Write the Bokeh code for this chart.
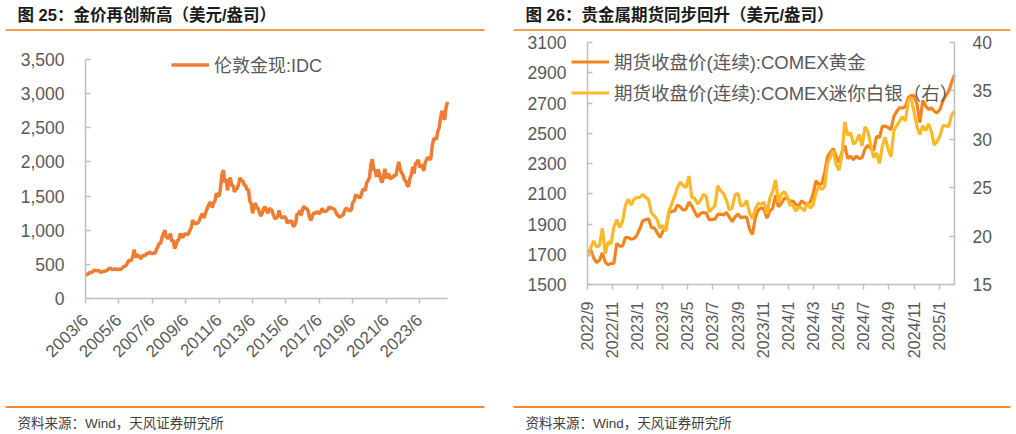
import math
import pandas as pd
from bokeh.plotting import figure
from bokeh.models import (Range1d, LinearAxis, FixedTicker, Legend, LegendItem,
                          Label, BoxAnnotation, NumeralTickFormatter)
from bokeh.layouts import row
from bokeh.embed import file_html
from bokeh.resources import INLINE

# ---------------- data: figure 25 (monthly, from 2003/6) ----------------
gold_2003 = [356, 351, 360, 380, 379, 390, 410]
gold_2004 = [414, 405, 410, 400, 384, 392, 398, 400, 406, 420, 440, 442]
gold_2005 = [424, 423, 434, 429, 422, 431, 424, 438, 460, 470, 480, 515]
gold_2006 = [555, 555, 560, 620, 715, 600, 640, 630, 598, 585, 630, 630]
gold_2007 = [630, 665, 655, 680, 667, 655, 665, 665, 720, 760, 810, 810]
gold_2008 = [900, 950, 1000, 900, 885, 890, 950, 830, 860, 730, 780, 850]
gold_2009 = [860, 950, 920, 890, 950, 940, 935, 950, 1000, 1045, 1150, 1110]
gold_2010 = [1090, 1105, 1110, 1160, 1210, 1240, 1180, 1240, 1300, 1350, 1390, 1410]
gold_2011 = [1330, 1400, 1430, 1540, 1510, 1500, 1620, 1820, 1880, 1700, 1750, 1580]
gold_2012 = [1720, 1770, 1660, 1650, 1560, 1600, 1610, 1680, 1770, 1720, 1730, 1660]
gold_2013 = [1660, 1590, 1600, 1430, 1390, 1250, 1320, 1400, 1330, 1320, 1250, 1210]
gold_2014 = [1250, 1320, 1340, 1290, 1250, 1320, 1300, 1290, 1220, 1170, 1180, 1200]
gold_2015 = [1290, 1210, 1180, 1190, 1200, 1170, 1100, 1135, 1120, 1145, 1065, 1060]
gold_2016 = [1115, 1240, 1235, 1290, 1215, 1320, 1350, 1310, 1320, 1275, 1180, 1145]
gold_2017 = [1210, 1255, 1245, 1265, 1265, 1240, 1270, 1320, 1280, 1275, 1280, 1300]
gold_2018 = [1345, 1320, 1325, 1315, 1300, 1250, 1225, 1200, 1190, 1215, 1220, 1280]
gold_2019 = [1320, 1315, 1295, 1280, 1305, 1410, 1425, 1525, 1490, 1510, 1465, 1515]
gold_2020 = [1590, 1600, 1580, 1700, 1730, 1770, 1970, 2040, 1890, 1880, 1780, 1890]
gold_2021 = [1850, 1740, 1700, 1770, 1900, 1760, 1815, 1815, 1745, 1780, 1775, 1810]
gold_2022 = [1800, 1910, 2000, 1900, 1840, 1810, 1740, 1720, 1660, 1640, 1760, 1810]
gold_2023 = [1930, 1830, 1980, 1990, 2030, 1920, 1960, 1920, 1870, 1990, 2040, 2070]
gold_2024 = [2040, 2045, 2230, 2330, 2350, 2330, 2445, 2500, 2640, 2750, 2650, 2620]
gold_2025 = [2800, 2880]
london_gold = (gold_2003 + gold_2004 + gold_2005 + gold_2006 + gold_2007 + gold_2008 +
               gold_2009 + gold_2010 + gold_2011 + gold_2012 + gold_2013 + gold_2014 +
               gold_2015 + gold_2016 + gold_2017 + gold_2018 + gold_2019 + gold_2020 +
               gold_2021 + gold_2022 + gold_2023 + gold_2024 + gold_2025)
left_tick_labels = ["2003/6", "2005/6", "2007/6", "2009/6", "2011/6", "2013/6",
                    "2015/6", "2017/6", "2019/6", "2021/6", "2023/6"]

# ---------------- data: figure 26 (weekly, from 2022-09-02) ----------------
comex_gold_2022 = [1720, 1728, 1675, 1645, 1660, 1709, 1648, 1630, 1640, 1640, 1771, 1754,
                   1755, 1810, 1810, 1800, 1804, 1826]
comex_gold_2023 = [1869, 1921, 1928, 1935, 1876, 1874, 1842, 1811, 1855, 1868, 1973, 1983,
                   1986, 2025, 2015, 1990, 1999, 2045, 2019, 1981, 1946, 1969, 1977, 1971,
                   1929, 1929, 1932, 1964, 1965, 1959, 1976, 1946, 1916, 1947, 1966, 1942,
                   1946, 1945, 1866, 1830, 1941, 1994, 2006, 1999, 1938, 1985, 2003, 2089,
                   2014, 2035, 2069, 2071]
comex_gold_2024 = [2050, 2051, 2029, 2018, 2054, 2038, 2024, 2046, 2096, 2186, 2161, 2165,
                   2238, 2345, 2374, 2398, 2347, 2308, 2375, 2418, 2334, 2348, 2325, 2349,
                   2332, 2339, 2397, 2421, 2399, 2386, 2480, 2471, 2546, 2547, 2538, 2524,
                   2611, 2646, 2668, 2667, 2676, 2736, 2749, 2750, 2694, 2570, 2716, 2681,
                   2657, 2668, 2645, 2635]
comex_gold_2025 = [2659, 2716, 2748, 2778, 2835, 2886]
comex_gold = comex_gold_2022 + comex_gold_2023 + comex_gold_2024 + comex_gold_2025

comex_silver_2022 = [17.9, 18.8, 19.5, 18.9, 19.0, 20.8, 18.2, 19.4, 19.2, 20.9, 21.7, 20.9,
                     21.5, 23.2, 23.8, 23.2, 23.8, 24.0]
comex_silver_2023 = [24.0, 24.3, 24.0, 23.8, 22.4, 22.1, 21.7, 20.8, 21.1, 20.5, 22.5, 23.3,
                     24.1, 25.0, 25.6, 25.2, 25.0, 26.2, 24.0, 23.9, 23.3, 23.7, 24.3, 24.1,
                     22.5, 22.8, 23.1, 25.2, 24.7, 24.4, 23.7, 22.7, 22.9, 24.3, 24.4, 23.1,
                     23.2, 23.7, 22.4, 21.8, 22.8, 23.4, 23.3, 23.5, 22.3, 23.9, 24.6, 25.8,
                     23.5, 24.3, 24.6, 24.1]
comex_silver_2024 = [23.2, 23.2, 22.6, 23.0, 22.9, 22.6, 23.5, 22.9, 23.2, 24.5, 25.2, 24.8,
                     25.1, 27.5, 28.2, 28.8, 27.4, 26.8, 28.4, 31.8, 30.4, 30.7, 29.5, 29.8,
                     30.5, 29.3, 31.3, 30.8, 29.4, 28.1, 28.6, 27.5, 29.3, 30.2, 29.0, 28.2,
                     30.9, 31.4, 31.9, 32.3, 31.9, 34.0, 34.3, 32.8, 31.3, 30.5, 31.4, 30.9,
                     31.6, 30.8, 29.4, 29.8]
comex_silver_2025 = [30.4, 31.4, 31.4, 31.3, 32.5, 32.9]
comex_silver = comex_silver_2022 + comex_silver_2023 + comex_silver_2024 + comex_silver_2025

right_tick_dates = ["2022-09-01", "2022-11-01", "2023-01-01", "2023-03-01", "2023-05-01",
                    "2023-07-01", "2023-09-01", "2023-11-01", "2024-01-01", "2024-03-01",
                    "2024-05-01", "2024-07-01", "2024-09-01", "2024-11-01", "2025-01-01"]
right_tick_labels = ["2022/9", "2022/11", "2023/1", "2023/3", "2023/5", "2023/7", "2023/9",
                     "2023/11", "2024/1", "2024/3", "2024/5", "2024/7", "2024/9", "2024/11",
                     "2025/1"]

title_left = "图 25：金价再创新高（美元/盎司）"
title_right = "图 26：贵金属期货同步回升（美元/盎司）"
source_text = "资料来源：Wind，天风证券研究所"

# ---------------- styles ----------------
FONT = "Liberation Sans, Noto Sans CJK SC"
AXIS_C = "#BFBFBF"
LABEL_C = "#595959"
TITLE_LINE_C = "#F5A04E"
FOOT_LINE_C = "#F28B2C"
C_LGOLD = "#EE7D31"
C_GOLD = "#F5841F"
C_SILVER = "#FBB829"
PW, PH = 508, 434


def span_range(v0, v1, p0, p1, size):
    """Range whose values v0/v1 fall at panel pixels p0/p1 (p grows with value)."""
    k = (p1 - p0) / (v1 - v0)
    return Range1d(v0 - p0 / k, v0 + (size - p0) / k)


def style_axis(ax, size, tick_in, tick_out, standoff):
    ax.axis_line_color = AXIS_C
    ax.axis_line_width = 1.5
    ax.major_tick_line_color = AXIS_C
    ax.major_tick_line_width = 1.5
    ax.major_tick_in = tick_in
    ax.major_tick_out = tick_out
    ax.minor_tick_line_color = None
    ax.major_label_text_font = FONT
    ax.major_label_text_font_size = size
    ax.major_label_text_color = LABEL_C
    ax.major_label_standoff = standoff


def base_fig(xr, yr):
    p = figure(width=PW, height=PH, x_range=xr, y_range=yr, title=None,
               x_axis_type=None, y_axis_type=None, output_backend="svg",
               toolbar_location=None, min_border=0)
    p.outline_line_color = None
    p.background_fill_color = "white"
    p.border_fill_color = "white"
    return p


def decorate(p, title, line_right):
    """Title, orange rules and source note (panel pixel positions, y from top)."""
    def box(x0, x1, y0, y1, c):
        p.add_layout(BoxAnnotation(left=x0, right=x1, top=PH - y0, bottom=PH - y1,
                                   left_units="screen", right_units="screen",
                                   top_units="screen", bottom_units="screen",
                                   fill_color=c, fill_alpha=1, line_color=None))

    def text(x, y, s, size, bold, c):
        p.add_layout(Label(x=x, y=PH - y, x_units="screen", y_units="screen", text=s,
                           text_font=FONT, text_font_size=size,
                           text_font_style="bold" if bold else "normal", text_color=c,
                           text_baseline="middle", text_align="left"))
    box(5, line_right, 28.5, 30.5, TITLE_LINE_C)
    box(5, line_right, 405.5, 407.5, FOOT_LINE_C)
    text(17, 14.5, title, "16.5px", True, "#1A1A1A")
    text(17, 423, source_text, "13.5px", False, "#404040")


# ---------------- figure 25 ----------------
n1 = len(london_gold)
x1 = list(range(n1))
p1 = base_fig(span_range(0, n1 - 1, 85, 447, PW), span_range(0, 3500, PH - 298, PH - 59, PH))
r1 = p1.line(x1, london_gold, color=C_LGOLD, line_width=3.5)
left_ticks = [i * 24 for i in range(len(left_tick_labels))]
xa1 = LinearAxis(fixed_location=0, bounds=(0, n1 - 1), ticker=FixedTicker(ticks=left_ticks),
                 major_label_overrides={t: l for t, l in zip(left_ticks, left_tick_labels)},
                 major_label_orientation=math.pi / 4)
ya1 = LinearAxis(fixed_location=0, bounds=(0, 3500),
                 ticker=FixedTicker(ticks=list(range(0, 3501, 500))),
                 formatter=NumeralTickFormatter(format="0,0"))
style_axis(xa1, "17px", 0, 5, 14)
style_axis(ya1, "17.5px", 5, 0, 21)
p1.add_layout(xa1, "below")
p1.add_layout(ya1, "left")
leg1 = Legend(items=[LegendItem(label="伦敦金现:IDC", renderers=[r1])], location=(171, 357),
              glyph_width=38, glyph_height=21, label_height=21, label_standoff=5,
              padding=0, margin=0, spacing=5, border_line_alpha=0, background_fill_alpha=0,
              label_text_font=FONT, label_text_font_size="18px", label_text_color=LABEL_C)
p1.add_layout(leg1)
decorate(p1, title_left, 484)

# ---------------- figure 26 ----------------
base = pd.Timestamp("2022-09-01")
dates2 = pd.date_range("2022-09-02", periods=len(comex_gold), freq="7D")
x2 = [(d - base).days for d in dates2]
xend = x2[-1]
p2 = base_fig(span_range(0, xend, 79, 446, PW), span_range(1500, 3100, PH - 284, PH - 42, PH))
p2.extra_y_ranges = {"silver": span_range(15, 40, PH - 284, PH - 42, PH)}
rg = p2.line(x2, comex_gold, color=C_GOLD, line_width=3.2)
rs = p2.line(x2, comex_silver, color=C_SILVER, line_width=3.2, y_range_name="silver")
right_ticks = [(pd.Timestamp(d) - base).days for d in right_tick_dates]
xa2 = LinearAxis(fixed_location=1500, bounds=(0, xend), ticker=FixedTicker(ticks=right_ticks),
                 major_label_overrides={t: l for t, l in zip(right_ticks, right_tick_labels)},
                 major_label_orientation=math.pi / 2)
ya2 = LinearAxis(fixed_location=0, bounds=(1500, 3100),
                 ticker=FixedTicker(ticks=list(range(1500, 3101, 200))))
ya2r = LinearAxis(fixed_location=xend, bounds=(15, 40), y_range_name="silver",
                  ticker=FixedTicker(ticks=[15, 20, 25, 30, 35, 40]))
style_axis(xa2, "16px", 0, 5, 12)
style_axis(ya2, "17.5px", 5, 0, 21)
style_axis(ya2r, "17.5px", 5, 0, 18)
p2.add_layout(xa2, "below")
p2.add_layout(ya2, "left")
p2.add_layout(ya2r, "right")
leg2 = Legend(items=[LegendItem(label="期货收盘价(连续):COMEX黄金", renderers=[rg]),
                     LegendItem(label="期货收盘价(连续):COMEX迷你白银（右）", renderers=[rs])],
              location=(63, 329),
              glyph_width=38, glyph_height=21, label_height=21, label_standoff=5,
              padding=0, margin=0, spacing=5, border_line_alpha=0, background_fill_alpha=0,
              label_text_font=FONT, label_text_font_size="18.5px", label_text_color=LABEL_C)
p2.add_layout(leg2)
decorate(p2, title_right, 502)

layout = row(p1, p2)
open("out.html", "w").write(file_html(layout, INLINE))
